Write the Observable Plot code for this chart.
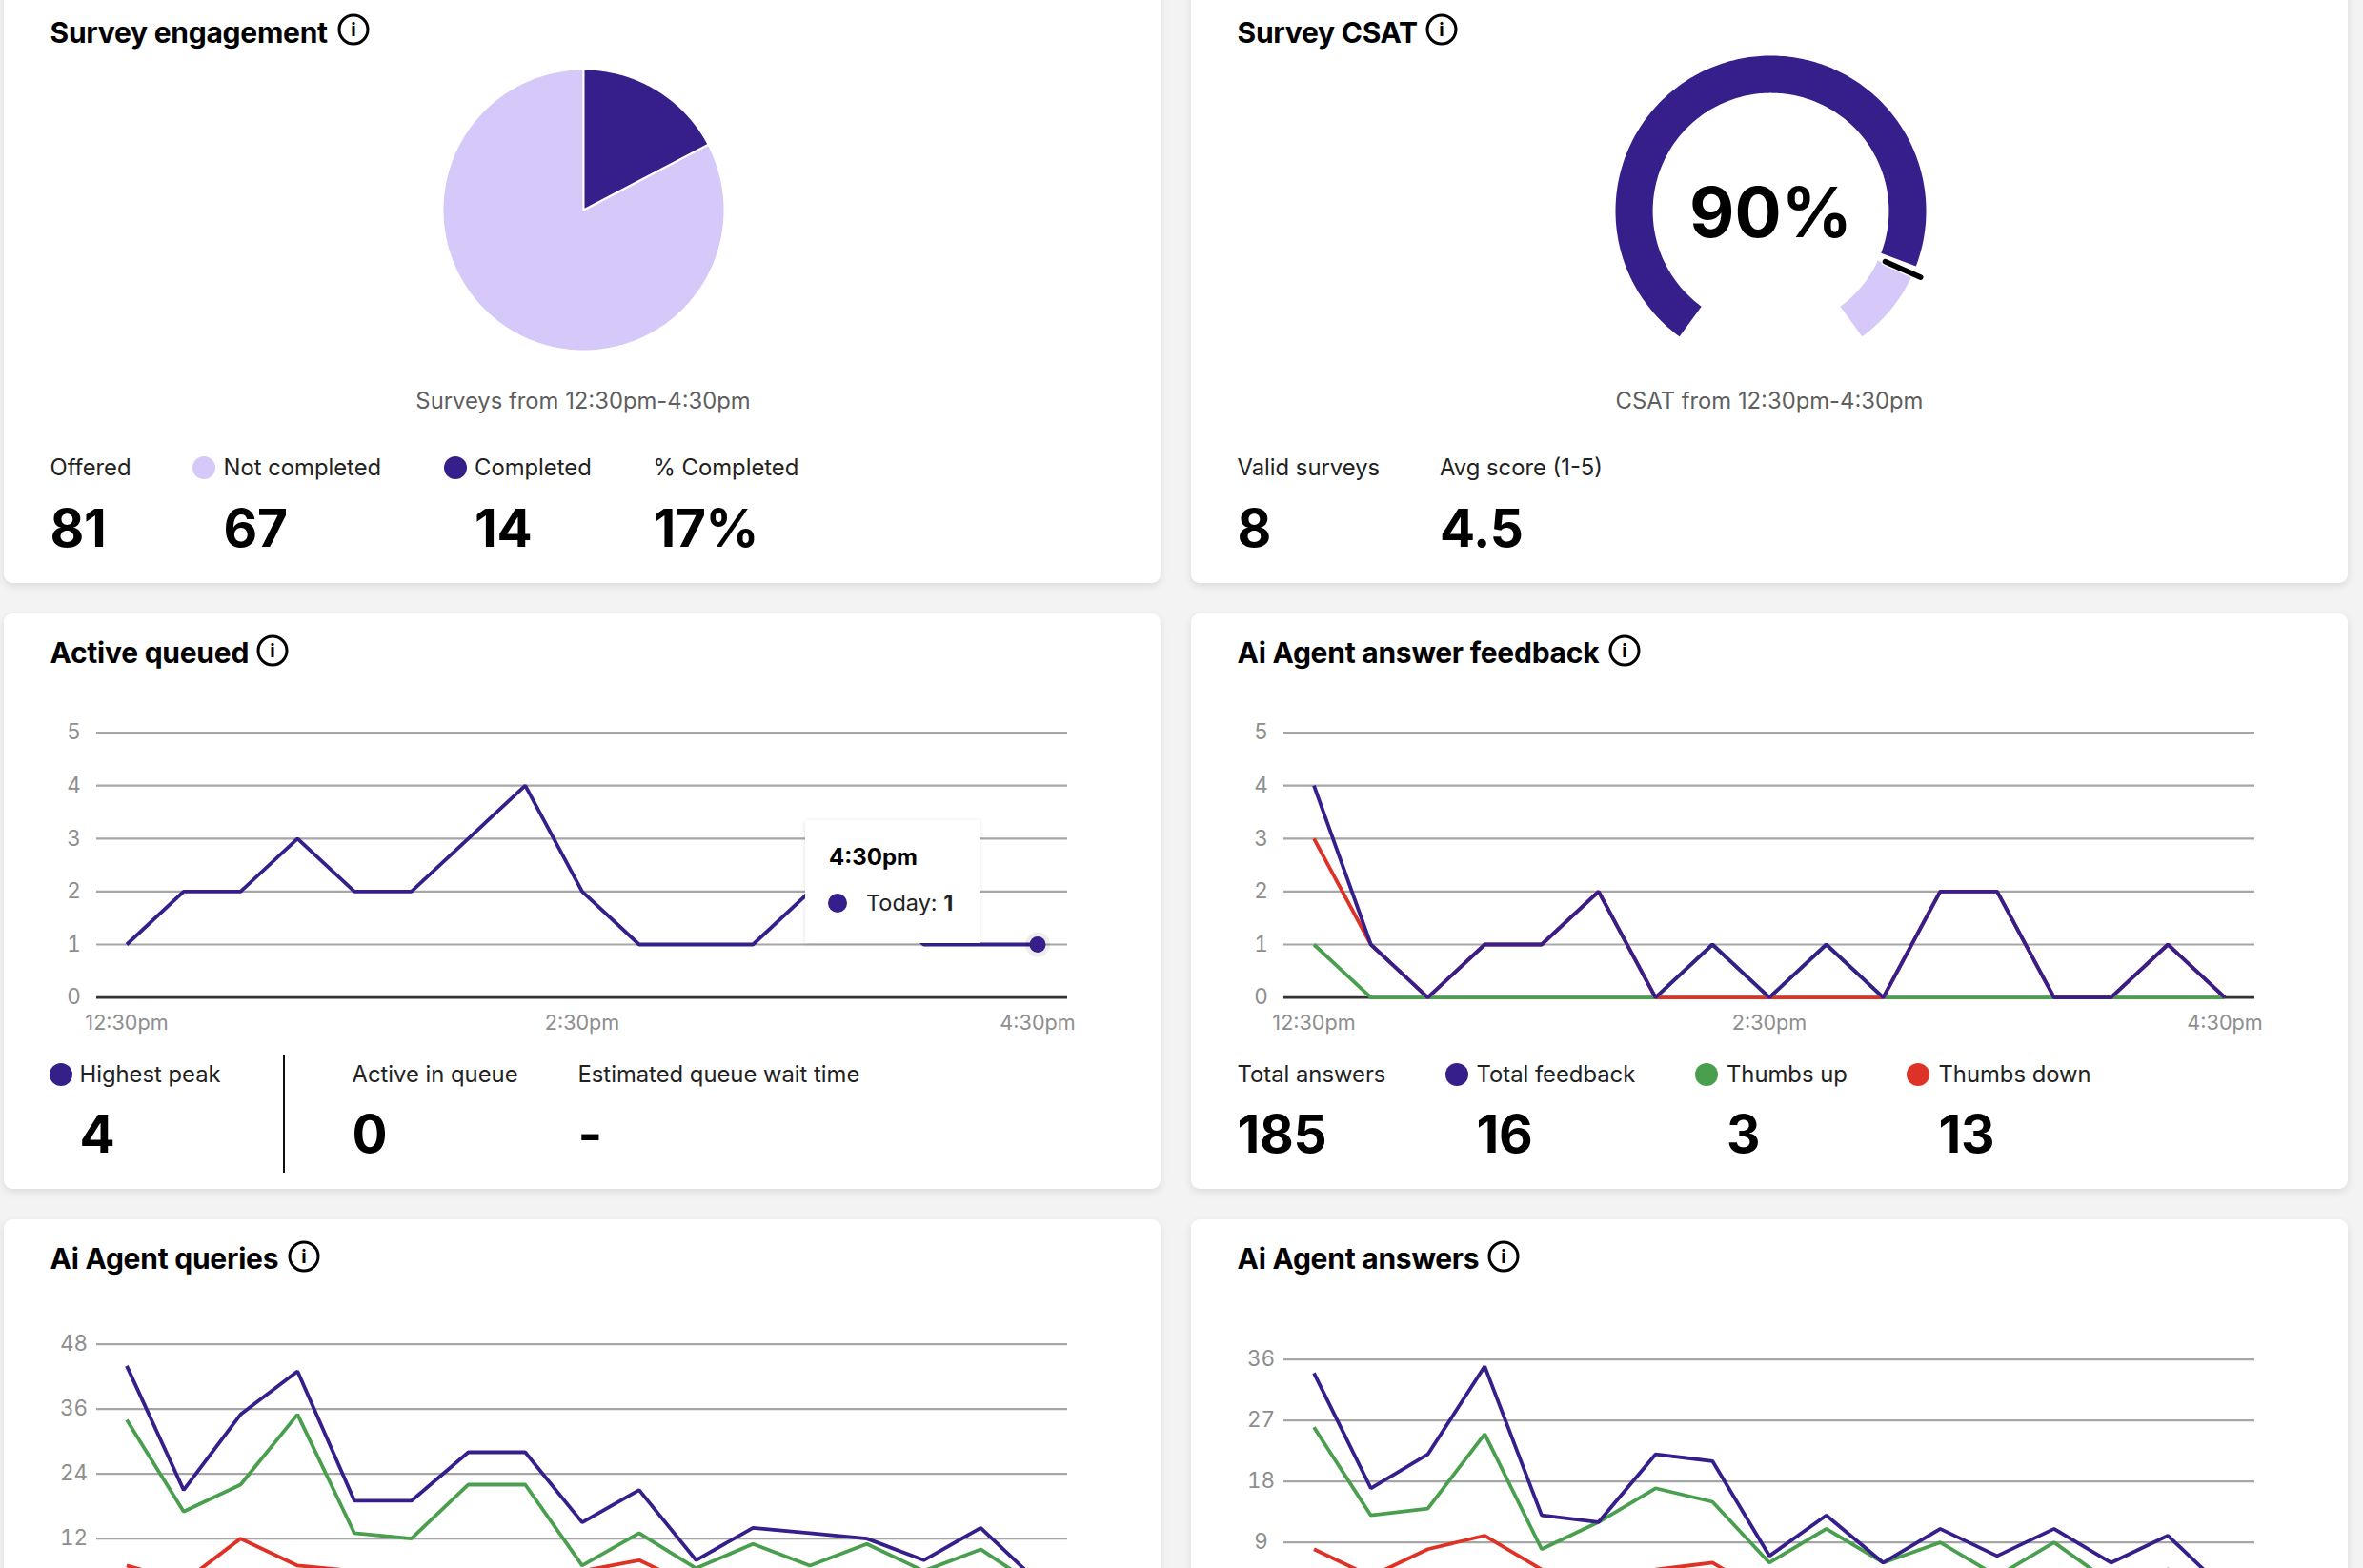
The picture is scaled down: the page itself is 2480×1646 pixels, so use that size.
<!DOCTYPE html>
<html><head><meta charset="utf-8">
<script src="https://cdn.jsdelivr.net/npm/d3@7"></script>
<script src="https://cdn.jsdelivr.net/npm/@observablehq/plot@0.6"></script>
<style>
html,body{margin:0;padding:0;width:2480px;height:1646px;overflow:hidden;background:#f3f3f3;font-family:Inter,"Liberation Sans",sans-serif;color:#000}
.card{position:absolute;background:#fff;border-radius:9px;box-shadow:0 3px 8px rgba(0,0,0,.10)}
.t{position:absolute;white-space:nowrap;line-height:1;transform:translateY(-50%)}
.title{font-size:30px;font-weight:700;letter-spacing:-.25px}
.label{font-size:23.8px;color:#222}
.value{font-size:55px;font-weight:700;letter-spacing:-.3px}
.note{font-size:23.8px;color:#5f5f5f;transform:translate(-50%,-50%)}
.info{position:absolute;box-sizing:border-box;width:33px;height:33px;border:3px solid #000;border-radius:50%;font-size:20px;font-weight:700;text-align:center;line-height:27px;transform:translate(-50%,-50%)}
.dot{position:absolute;width:24px;height:24px;border-radius:50%;transform:translate(-50%,-50%)}
.plot{position:absolute}
.plot svg{display:block;background:transparent}
.tip{position:absolute;left:845px;top:861px;width:183px;height:129px;background:#fff;box-shadow:0 1px 5px rgba(0,0,0,.12);z-index:5}
.divider{position:absolute;left:297px;top:1108px;width:1.6px;height:123px;background:#111}
</style></head><body>
<script>
// ---------- data ----------
const times = ["12:30pm","12:45pm","1:00pm","1:15pm","1:30pm","1:45pm","2:00pm","2:15pm","2:30pm","2:45pm","3:00pm","3:15pm","3:30pm","3:45pm","4:00pm","4:15pm","4:30pm"];
const timeTicks = ["12:30pm","2:30pm","4:30pm"];

const engagementNames = ["Completed","Not completed"];
const engagementValues = [14, 67];

const csatShares = [0.885, 0.115];
const csatLabel = "90%";

const activeTicks = [0,1,2,3,4,5];
const activeToday = [1,2,2,3,2,2,3,4,2,1,1,1,2,2,1,1,1];

const feedbackTicks = [0,1,2,3,4,5];
const feedbackTotal = [4,1,0,1,1,2,0,1,0,1,0,2,2,0,0,1,0];
const feedbackUp    = [1,0,0,0,0,0,0,1,0,1,0,0,0,0,0,0,0];
const feedbackDown  = [3,1,0,1,1,2,0,0,0,0,0,2,2,0,0,1,0];

const queryTicks = [12,24,36,48];
const queryTotal = [44,21,35,43,19,19,28,28,15,21,8,14,13,12,8,14,4];
const queryGreen = [34,17,22,35,13,12,22,22,7,13,6.5,11,7,11,6,10,3];
const queryRed   = [7,4,12,7,6,4,6,6,6,8,3,3,5,1,2,3,0];

const answerTicks = [9,18,27,36];
const answerTotal = [34,17,22,35,13,12,22,21,7,13,6,11,7,11,6,10,2];
const answerGreen = [26,13,14,25,8,12,17,15,6,11,6,9,4,9,3,5,1];
const answerRed   = [8,4,8,10,5,0,5,6,1,2,0,2,3,2,3,5,1];

const PURPLE="#371f8b", LILAC="#d6c9fa", GREEN="#4a9f4f", RED="#de3226";
const GRID="#a6a6a6", TICK="#8e8e8e", FONT="Inter, 'Liberation Sans', sans-serif";

// ---------- helpers ----------
const page = document.body;
function el(cls, css, text){
  const e=document.createElement("div"); e.className=cls;
  Object.assign(e.style,css); if(text!==undefined) e.textContent=text;
  page.appendChild(e); return e;
}
const px=n=>n+"px";
function card(x,y,w,h){el("card",{left:px(x),top:px(y),width:px(w),height:px(h)});}
function title(x,y,text,iconX,iconY){
  el("t title",{left:px(x),top:px(y)},text);
  el("info",{left:px(iconX),top:px(iconY)},"i");
}
function stat(x,labelY,valueY,label,value,dotColor,dotX){
  el("t label",{left:px(x),top:px(labelY)},label);
  el("t value",{left:px(x),top:px(valueY)},value);
  if(dotColor) el("dot",{left:px(dotX),top:px(labelY),background:dotColor});
}
function mount(svg,x,y){
  const d=el("plot",{left:px(x),top:px(y)}); d.appendChild(svg);
}
// polygon vertices of a ring sector; angles in degrees clockwise from the top
function sector(name,a0,a1,r0,r1){
  const n=Math.max(2,Math.ceil(Math.abs(a1-a0))), out=[];
  for(let i=0;i<=n;i++){const a=(a0+(a1-a0)*i/n)*Math.PI/180; out.push({name,x:r1*Math.sin(a),y:r1*Math.cos(a)});}
  if(r0===0) out.push({name,x:0,y:0});
  else for(let i=n;i>=0;i--){const a=(a0+(a1-a0)*i/n)*Math.PI/180; out.push({name,x:r0*Math.sin(a),y:r0*Math.cos(a)});}
  return out;
}
// the last row runs off the bottom of the picture, so it has no x-axis and no 0 label
function lineChart(x,y,ticks,marginTop,series,extra=[],cropped=false){
  const height=460, baseline=402.6;
  const svg=Plot.plot({
    width:1214,height,marginLeft:97,marginRight:98,marginTop,marginBottom:height-baseline,
    style:{fontFamily:FONT,background:"transparent",overflow:"visible"},
    x:{type:"point",domain:times,padding:0.527,round:false,label:null,axis:cropped?null:undefined},
    y:{domain:[0,ticks[ticks.length-1]],label:null},
    marks:[
      Plot.ruleY(ticks.filter(t=>t>0),{stroke:GRID,strokeWidth:2.2}),
      Plot.ruleY([0],{stroke:"#333",strokeWidth:2.6}),
      Plot.axisY({ticks,tickFormat:"d",tickSize:0,tickPadding:24,textAnchor:"middle",fontSize:22.5,fill:TICK,label:null}),
      ...(cropped?[]:[Plot.axisX({ticks:timeTicks,tickSize:0,tickPadding:18.5,fontSize:21.6,fill:TICK,label:null})]),
      ...series.map(s=>Plot.line(times,{x:d=>d,y:(d,i)=>s.values[i],stroke:s.color,strokeWidth:3.8,strokeLinejoin:"miter",strokeLinecap:"butt",curve:"linear"})),
      ...extra
    ]
  });
  mount(svg,x,y);
}

// ---------- cards ----------
card(4,-30,1214,642);  card(1250,-30,1214,642);
card(4,644,1214,604);  card(1250,644,1214,604);
card(4,1280,1214,500); card(1250,1280,1214,500);

// --- Survey engagement
title(52.5,34,"Survey engagement",371,31);
const total=d3.sum(engagementValues);
const doneAngle=360*engagementValues[0]/total;
const piePts=[...sector("Not completed",doneAngle,360,0,1),...sector("Completed",0,doneAngle,0,1)];
mount(Plot.plot({
  width:304,height:304,margin:4,
  style:{background:"transparent"},
  x:{domain:[-1,1],axis:null},y:{domain:[-1,1],axis:null},
  color:{domain:engagementNames,range:[PURPLE,LILAC]},
  marks:[Plot.line(piePts,{x:"x",y:"y",z:"name",fill:"name",stroke:"#fff",strokeWidth:2,curve:"linear-closed"})]
}),460,68);
el("t note",{left:"612px",top:"421px"},"Surveys from 12:30pm-4:30pm");
stat(52.5,491,554,"Offered","81");
stat(234.5,491,554,"Not completed","67",LILAC,213.5);
stat(498,491,554,"Completed","14",PURPLE,478);
stat(685.5,491,554,"% Completed","17%");

// --- Survey CSAT
title(1298.5,34,"Survey CSAT",1513,31);
const gaugeStart=-144, gaugeSpan=288, ringInner=0.76, gap=2;
const gaugeEnd=gaugeStart+gaugeSpan*csatShares[0];
const gaugePts=[...sector("filled",gaugeStart,gaugeEnd,ringInner,1),...sector("rest",gaugeEnd+2*gap,gaugeStart+gaugeSpan,ringInner,1)];
const needleAngle=(gaugeEnd+1.5*gap)*Math.PI/180;
const needle=[0.805,1.055].map(r=>({x:r*Math.sin(needleAngle),y:r*Math.cos(needleAngle)}));
mount(Plot.plot({
  width:352,height:352,margin:13,
  style:{fontFamily:FONT,background:"transparent"},
  x:{domain:[-1,1],axis:null},y:{domain:[-1,1],axis:null},
  color:{domain:["filled","rest"],range:[PURPLE,LILAC]},
  marks:[
    Plot.line(gaugePts,{x:"x",y:"y",z:"name",fill:"name",stroke:"none",curve:"linear-closed"}),
    Plot.line(needle,{x:"x",y:"y",stroke:"#fff",strokeWidth:8.5}),
    Plot.line(needle,{x:"x",y:"y",stroke:"#000",strokeWidth:5.5}),
    Plot.text([csatLabel],{x:()=>0,y:()=>0,text:d=>d,fontSize:73,fontWeight:700,letterSpacing:"-1px",fill:"#000",dy:4})
  ]
}),1682,45);
el("t note",{left:"1857px",top:"421px"},"CSAT from 12:30pm-4:30pm");
stat(1298.5,491,554,"Valid surveys","8");
stat(1511,491,554,"Avg score (1-5)","4.5");

// --- Active queued
title(52.5,685,"Active queued",286,683);
lineChart(4,644,activeTicks,124.6,[{values:activeToday,color:PURPLE}],[
  Plot.dot([times[16]],{x:d=>d,y:()=>activeToday[16],r:13,fill:"#000",fillOpacity:0.07}),
  Plot.dot([times[16]],{x:d=>d,y:()=>activeToday[16],r:8.5,fill:PURPLE})
]);
el("tip",{});
el("t",{left:"870px",top:"900px",fontSize:"24px",fontWeight:"700",zIndex:6},"4:30pm");
el("dot",{left:"879px",top:"948px",width:"20px",height:"20px",background:PURPLE,zIndex:6});
const tip2=el("t",{left:"909px",top:"948px",fontSize:"23.5px",zIndex:6,color:"#222"},"Today: ");
const strong=document.createElement("b"); strong.textContent=activeToday[16]; strong.style.fontWeight="700"; tip2.appendChild(strong);
stat(83.5,1128,1190,"Highest peak","4",PURPLE,63.6);
el("divider",{});
stat(369.5,1128,1190,"Active in queue","0");
stat(606.5,1128,1190,"Estimated queue wait time","-");

// --- Ai Agent answer feedback
title(1298.5,685,"Ai Agent answer feedback",1705,683);
lineChart(1250,644,feedbackTicks,124.6,[
  {values:feedbackUp,color:GREEN},{values:feedbackDown,color:RED},{values:feedbackTotal,color:PURPLE}
]);
stat(1298.5,1128,1190,"Total answers","185");
stat(1549.5,1128,1190,"Total feedback","16",PURPLE,1528.7);
stat(1812,1128,1190,"Thumbs up","3",GREEN,1791);
stat(2034.5,1128,1190,"Thumbs down","13",RED,2013);

// --- Ai Agent queries
title(52.5,1321,"Ai Agent queries",319,1319);
lineChart(4,1280,queryTicks,130.7,[
  {values:queryRed,color:RED},{values:queryGreen,color:GREEN},{values:queryTotal,color:PURPLE}
],[],true);

// --- Ai Agent answers
title(1298.5,1321,"Ai Agent answers",1578,1319);
lineChart(1250,1280,answerTicks,146.7,[
  {values:answerRed,color:RED},{values:answerGreen,color:GREEN},{values:answerTotal,color:PURPLE}
],[],true);
</script>
</body></html>
